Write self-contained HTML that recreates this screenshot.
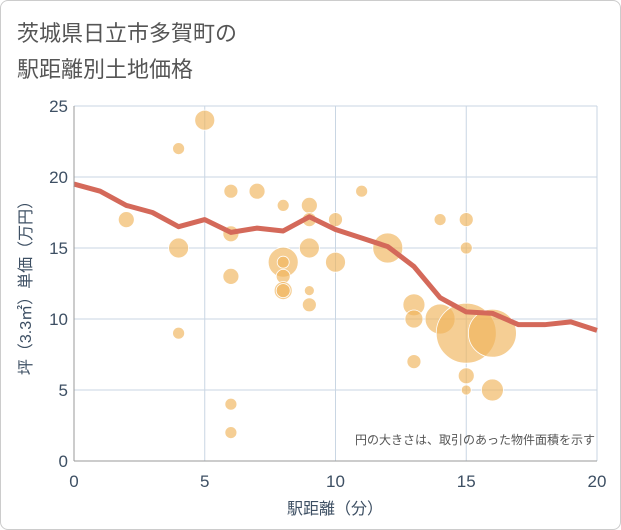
<!DOCTYPE html>
<html><head><meta charset="utf-8"><style>
body{margin:0;background:#fff;font-family:"Liberation Sans","Noto Sans CJK JP",sans-serif}
#wrap{position:relative;width:619px;height:528px;border:1px solid #ccc;border-radius:8px;overflow:hidden}
</style></head><body>
<div id="wrap">
<svg id="c" width="619" height="528">
<text x="16" y="40" font-size="22" fill="#555">茨城県日立市多賀町の</text>
<text x="16" y="76" font-size="22" fill="#555">駅距離別土地価格</text>
<g id="grid"></g><g id="bub"></g><g id="ln"></g><g id="ax"></g>
<text x="594" y="443" font-size="12" fill="#555" text-anchor="end">円の大きさは、取引のあった物件面積を示す</text>
<text x="334" y="513" font-size="16" fill="#3d4f63" text-anchor="middle">駅距離（分）</text>
<text transform="translate(30,283) rotate(-90)" font-size="16" fill="#3d4f63" text-anchor="middle">坪（3.3㎡）単価（万円）</text>
</svg></div>
<script>
const xTicks=[0,5,10,15,20];
const yTicks=[0,5,10,15,20,25];
const lineX=[0,1,2,3,4,5,6,7,8,9,10,11,12,13,14,15,16,17,18,19,20];
const lineY=[19.5,19,18,17.5,16.5,17,16.1,16.4,16.2,17.2,16.3,15.7,15.1,13.7,11.5,10.5,10.4,9.6,9.6,9.8,9.2];
const bubX=[4,5,2,4,4,6,6,6,6,6,7,8,8,8,8,8,8,9,9,9,9,9,10,10,11,12,13,13,13,14,14,15,15,15,15,15,16,16];
const bubY=[22,24,17,15,9,19,16,13,4,2,19,18,14,14,13,12,12,18,17,15,12,11,17,14,19,15,11,10,7,17,10,17,15,9,6,5,9,5];
const bubR=[6,10,8,10,6,7,8,8,6,6,8,6,15,6,7,9,7,8,7,10,5,7,7,10,6,15,11,9,7,6,15,7,6,30,8,5,24,11];
const X=v=>73+v*(523/20), Y=v=>460-v*(355/25);
const NS="http://www.w3.org/2000/svg";
function mk(p,t,a){const e=document.createElementNS(NS,t);for(const k in a)e.setAttribute(k,a[k]);document.getElementById(p).appendChild(e);return e;}
xTicks.forEach(v=>{
 const l=mk('grid','line',{x1:X(v),x2:X(v),y1:Y(25),y2:Y(0),stroke:'#c9d6e3'});
 
 
 const t=mk('ax','text',{x:X(v),y:486,'font-size':17,fill:'#3d4f63','text-anchor':'middle'});t.textContent=v;
 
 
});
yTicks.forEach(v=>{
 const l=mk('grid','line',{x1:X(0),x2:X(20),y1:Y(v),y2:Y(v),stroke:'#c9d6e3'});
 
 
 const t=mk('ax','text',{x:67,y:Y(v)+6,'font-size':17,fill:'#3d4f63','text-anchor':'end'});t.textContent=v;
 
 
});
const a1=mk('ax','line',{x1:X(0),x2:X(0),y1:Y(25),y2:Y(0),stroke:'#999'});


const a2=mk('ax','line',{x1:X(0),x2:X(20),y1:Y(0),y2:Y(0),stroke:'#999'});


bubX.forEach((x,i)=>{
 const c=mk('bub','circle',{cx:X(x),cy:Y(bubY[i]),r:bubR[i],fill:'rgba(240,180,90,0.65)',stroke:'#fff','stroke-width':0.8});
 
 
});
const p=mk('ln','polyline',{points:lineX.map((x,i)=>X(x)+','+Y(lineY[i])).join(' '),fill:'none',stroke:'#d4695a','stroke-width':5,'stroke-linejoin':'round'});


</script></body></html>
